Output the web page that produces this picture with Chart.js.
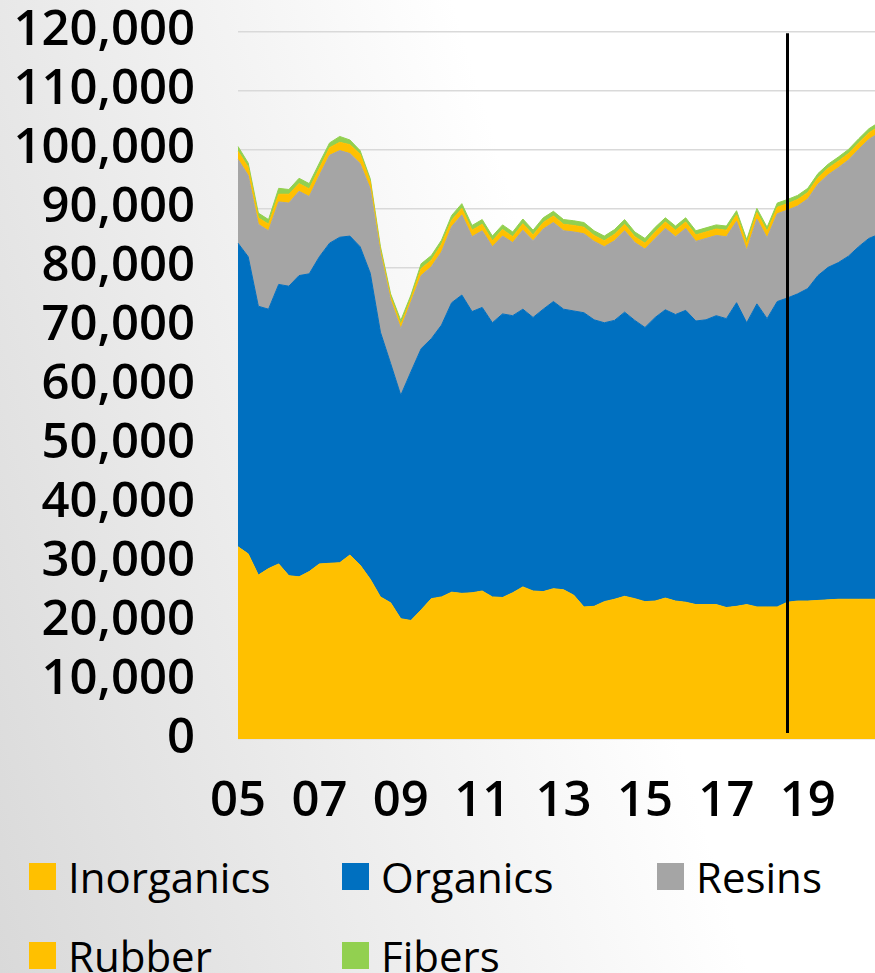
<!DOCTYPE html>
<html>
<head>
<meta charset="utf-8">
<script src="https://cdn.jsdelivr.net/npm/chart.js@4.4.1/dist/chart.umd.min.js"></script>
<style>
  html, body { margin: 0; padding: 0; width: 875px; height: 973px; overflow: hidden; }
  body {
    position: relative;
    background: linear-gradient(73deg, #d9d9d9 0%, #ffffff 64%, #ffffff 100%);
    font-family: "Open Sans", sans-serif;
  }
  #wrap { position: absolute; left: 0; top: -36px; width: 918px; height: 876px; }
  .lg-item { position: absolute; display: flex; align-items: flex-start; white-space: nowrap; }
  .lg-box { width: 27px; height: 27px; margin-right: 12px; flex: none; }
  .lg-text { font-family: "Open Sans", sans-serif; font-size: 42px; line-height: 27px; color: #000; }
</style>
</head>
<body>
<div id="wrap"><canvas id="c"></canvas></div>
<div id="legend"></div>
<script>
// ---- categories (quarters) ----
const categories = [
  "05Q1","05Q2","05Q3","05Q4","06Q1","06Q2","06Q3","06Q4",
  "07Q1","07Q2","07Q3","07Q4","08Q1","08Q2","08Q3","08Q4",
  "09Q1","09Q2","09Q3","09Q4","10Q1","10Q2","10Q3","10Q4",
  "11Q1","11Q2","11Q3","11Q4","12Q1","12Q2","12Q3","12Q4",
  "13Q1","13Q2","13Q3","13Q4","14Q1","14Q2","14Q3","14Q4",
  "15Q1","15Q2","15Q3","15Q4","16Q1","16Q2","16Q3","16Q4",
  "17Q1","17Q2","17Q3","17Q4","18Q1","18Q2","18Q3","18Q4",
  "19Q1","19Q2","19Q3","19Q4","20Q1","20Q2","20Q3","20Q4"
];
const xTickLabels = ["05","07","09","11","13","15","17","19"];
const forecastStart = "18Q3";

// ---- series ----
const seriesNames = ["Inorganics","Organics","Resins","Rubber","Fibers"];
const seriesColors = ["#FFC000","#0070C0","#A5A5A5","#FFC000","#92D050"];

const inorganics = [
  32600,31400,27800,28900,29700,27700,27500,28400,29700,29800,
  29900,31200,29500,27100,24100,23100,20400,20100,21900,23800,
  24100,24900,24700,24800,25100,24100,24000,24800,25800,25100,
  25000,25500,25300,24400,22400,22500,23300,23700,24200,23800,
  23300,23400,23900,23400,23200,22800,22800,22800,22300,22500,
  22800,22400,22400,22400,23200,23400,23400,23500,23600,23700,
  23700,23700,23700,23700
];
const organics = [
  51500,50400,45600,44000,47400,49100,51100,50500,52100,54300,
  55200,54100,54000,51900,44900,40600,37900,42200,44300,44100,
  46100,49100,50600,47700,48100,46500,48100,47000,47100,46400,
  47900,48700,47600,48200,49900,48600,47300,47300,48200,47200,
  46500,48100,48900,48600,49500,48100,48300,49000,49000,51500,
  47800,51400,48900,51800,51600,52100,53000,55100,56400,57100,
  58200,59800,61200,61900
];
const resins = [
  14200,13800,13900,13300,14000,14100,14300,13100,13800,14900,
  14700,14000,14100,14300,13300,10700,11300,11800,12400,12200,
  12400,12900,13600,12700,13000,12900,13200,12400,13400,13000,
  13600,13400,13300,13400,13400,13300,12900,13500,13800,13200,
  13300,13400,13800,13200,13900,13500,13800,13600,13900,13800,
  12300,14400,13700,14900,14900,14900,15200,15500,15700,16100,
  16300,16500,16800,17200
];
const rubber = [
  1400,1400,1100,1100,1300,1500,1300,1300,1200,1300,
  1400,1500,1600,1200,600,600,700,600,1200,1100,
  1300,1100,1100,1100,1100,1000,1100,1000,1100,1000,
  1100,1100,1100,1100,1100,1000,1000,1100,1100,1000,
  1000,1100,1100,1100,1100,1100,1100,1100,1100,1100,
  1100,1100,1100,1100,1100,1100,1100,1100,1100,1100,
  1100,1100,1100,1100
];
const fibers = [
  800,700,800,800,1000,800,900,900,900,800,
  1000,800,600,500,600,500,700,600,800,800,
  700,800,800,800,800,800,800,800,800,800,
  800,800,800,800,800,800,800,800,800,800,
  800,800,700,700,700,700,700,700,700,700,
  700,700,700,700,700,700,700,700,700,700,
  700,700,700,700
];
const seriesValues = [inorganics, organics, resins, rubber, fibers];

// ---- y axis ----
const yMin = 0, yMax = 120000, yStep = 10000;

const datasets = seriesNames.map((name, i) => ({
  label: name,
  data: seriesValues[i],
  backgroundColor: seriesColors[i],
  borderColor: seriesColors[i],
  borderWidth: 1,
  pointRadius: 0,
  pointHoverRadius: 0,
  tension: 0,
  fill: i === 0 ? 'origin' : '-1'
}));

const forecastLinePlugin = {
  id: 'forecastLine',
  afterDatasetsDraw(chart) {
    const xs = chart.scales.x, ys = chart.scales.y;
    const idx = categories.indexOf(forecastStart);
    const x = Math.round(xs.getPixelForValue(idx)) + 0.5;
    const ctx = chart.ctx;
    ctx.save();
    ctx.strokeStyle = '#000';
    ctx.lineWidth = 3;
    ctx.beginPath();
    ctx.moveTo(x, ys.getPixelForValue(119700));
    ctx.lineTo(x, ys.getPixelForValue(1000));
    ctx.stroke();
    ctx.restore();
  }
};

const tickFont = { family: "'Open Sans', sans-serif", size: 49, weight: 600, lineHeight: 1 };

const chart = new Chart(document.getElementById('c'), {
  type: 'line',
  data: { labels: categories, datasets },
  plugins: [forecastLinePlugin],
  options: {
    responsive: true,
    maintainAspectRatio: false,
    animation: false,
    events: [],
    layout: { padding: 0 },
    plugins: { legend: { display: false }, tooltip: { enabled: false } },
    scales: {
      x: {
        type: 'category',
        offset: false,
        grid: { display: false, drawTicks: false },
        border: { display: false },
        ticks: {
          autoSkip: false,
          maxRotation: 0,
          minRotation: 0,
          color: '#000',
          font: tickFont,
          padding: 39,
          callback: function (v, i) {
            const c = categories[i];
            if (c.endsWith('Q1') && xTickLabels.includes(c.slice(0, 2))) return c.slice(0, 2);
            return '';
          }
        },
        afterFit: s => { s.height = 101; }
      },
      y: {
        stacked: true,
        min: yMin,
        max: yMax,
        grid: { color: '#d9d9d9', lineWidth: 1.5, drawTicks: false },
        border: { display: false },
        ticks: {
          autoSkip: false,
          stepSize: yStep,
          color: '#000',
          font: tickFont,
          padding: 43,
          callback: v => v.toLocaleString('en-US')
        },
        afterFit: s => { s.width = 238; }
      }
    }
  }
});

// ---- HTML legend built from the chart's datasets ----
const legendCols = [29, 342, 657];
const legendRows = [863, 942];
const legendEl = document.getElementById('legend');
chart.data.datasets.forEach((ds, i) => {
  const item = document.createElement('div');
  item.className = 'lg-item';
  item.style.left = legendCols[i % 3] + 'px';
  item.style.top = legendRows[Math.floor(i / 3)] + 'px';
  const box = document.createElement('div');
  box.className = 'lg-box';
  box.style.background = ds.backgroundColor;
  const txt = document.createElement('span');
  txt.className = 'lg-text';
  txt.textContent = ds.label;
  item.appendChild(box);
  item.appendChild(txt);
  legendEl.appendChild(item);
});
</script>
</body>
</html>
